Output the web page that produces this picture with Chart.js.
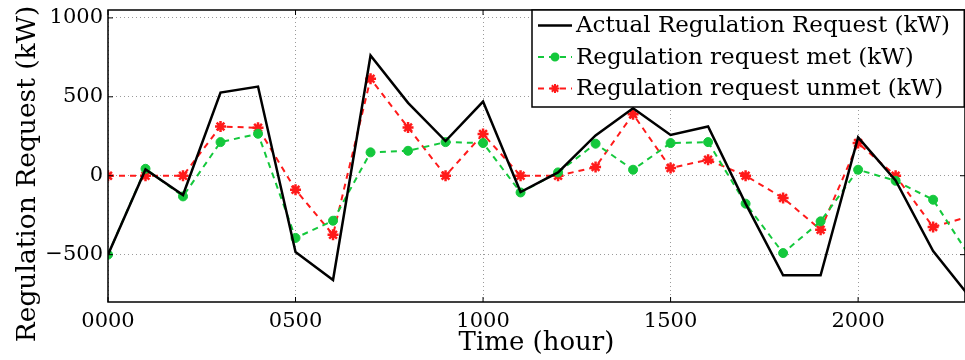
<!DOCTYPE html>
<html>
<head>
<meta charset="utf-8">
<script src="https://cdn.jsdelivr.net/npm/chart.js@4.4.1/dist/chart.umd.min.js"></script>
<style>
  html, body { margin: 0; padding: 0; background: #fff; }
  #wrap { width: 965px; height: 360px; }
</style>
</head>
<body>
<div id="wrap"><canvas id="chart"></canvas></div>
<script>
// hours of the day (hhmm)
const hours = [0, 100, 200, 300, 400, 500, 600, 700, 800, 900, 1000, 1100,
  1200, 1300, 1400, 1500, 1600, 1700, 1800, 1900, 2000, 2100, 2200, 2300];
const actualKW = [-500, 40, -122, 527, 565, -483, -660, 762, 462, 220, 470, -103,
  21, 255, 428, 258, 312, -177, -631, -631, 243, -30, -477, -775];
const metKW = [-500, 44, -131, 213, 266, -394, -285, 148, 158, 213, 207, -106,
  21, 203, 38, 207, 213, -177, -490, -289, 38, -32, -152, -520];
const unmetKW = [0, 0, 0, 312, 304, -89, -374, 614, 306, 0, 264, 0,
  0, 55, 390, 49, 101, 0, -141, -342, 207, 0, -325, -255];
const xTicks = [0, 500, 1000, 1500, 2000];
const yTicks = [-500, 0, 500, 1000];

const FONT = "'DejaVu Serif', 'Liberation Serif', serif";
const toPoints = vals => hours.map((h, i) => ({ x: h, y: vals[i] }));

// black frame + inward tick marks (matlab style), plus the y title
const framePlugin = {
  id: 'frame',
  afterDatasetsDraw(chart) {
    const { ctx, chartArea: a, scales } = chart;
    ctx.save();
    ctx.strokeStyle = '#000';
    ctx.lineWidth = 1.5;
    ctx.strokeRect(a.left, a.top, a.right - a.left, a.bottom - a.top);
    ctx.lineWidth = 1;
    ctx.beginPath();
    xTicks.forEach(v => {
      const x = scales.x.getPixelForValue(v);
      ctx.moveTo(x, a.bottom); ctx.lineTo(x, a.bottom - 5);
      ctx.moveTo(x, a.top); ctx.lineTo(x, a.top + 5);
    });
    yTicks.forEach(v => {
      const y = scales.y.getPixelForValue(v);
      ctx.moveTo(a.left, y); ctx.lineTo(a.left + 5, y);
      ctx.moveTo(a.right, y); ctx.lineTo(a.right - 5, y);
    });
    ctx.stroke();

    // y title, matlab puts it a bit lower than the axis centre
    ctx.translate(28, (a.top + a.bottom) / 2 + 18);
    ctx.rotate(-Math.PI / 2);
    ctx.fillStyle = '#000';
    ctx.font = "26.5px " + FONT;
    ctx.textAlign = 'center';
    ctx.textBaseline = 'middle';
    ctx.fillText('Regulation Request (kW)', 0, 0);
    ctx.restore();
  }
};

// boxed legend in the top right corner
const boxLegend = {
  id: 'boxLegend',
  afterDraw(chart) {
    const { ctx, chartArea: a } = chart;
    const w = 433, h = 97, rowH = 31.5;
    const left = a.right - w, top = a.top;
    ctx.save();
    ctx.fillStyle = '#fff';
    ctx.fillRect(left, top, w, h);
    ctx.strokeStyle = '#000';
    ctx.lineWidth = 1.5;
    ctx.strokeRect(left, top, w - 0.75, h);
    chart.data.datasets.forEach((ds, i) => {
      const y = top + 15.5 + i * rowH;
      ctx.strokeStyle = ds.borderColor;
      ctx.lineWidth = ds.borderWidth;
      ctx.setLineDash(ds.borderDash || []);
      ctx.beginPath();
      ctx.moveTo(left + 6, y);
      ctx.lineTo(left + 40, y);
      ctx.stroke();
      ctx.setLineDash([]);
      if (ds.pointRadius > 0) {
        ctx.fillStyle = ds.pointBackgroundColor;
        ctx.strokeStyle = ds.pointBorderColor;
        Chart.helpers.drawPoint(ctx, {
          pointStyle: ds.pointStyle, radius: ds.pointRadius - 1,
          rotation: 0, borderWidth: ds.pointBorderWidth
        }, left + 23, y);
      }
      ctx.fillStyle = '#000';
      ctx.font = "23px " + FONT;
      ctx.textBaseline = 'middle';
      ctx.textAlign = 'left';
      ctx.fillText(ds.label, left + 44, y + 1);
    });
    ctx.restore();
  }
};

new Chart(document.getElementById('chart'), {
  type: 'line',
  data: {
    datasets: [{
      label: 'Actual Regulation Request (kW)',
      data: toPoints(actualKW),
      borderColor: '#000',
      borderWidth: 2.5,
      pointRadius: 0,
      tension: 0
    }, {
      label: 'Regulation request met (kW)',
      data: toPoints(metKW),
      borderColor: '#14c83c',
      borderWidth: 2,
      borderDash: [6, 5],
      pointStyle: 'circle',
      pointRadius: 4.5,
      pointBackgroundColor: '#14c83c',
      pointBorderColor: '#14c83c',
      pointBorderWidth: 1,
      tension: 0
    }, {
      label: 'Regulation request unmet (kW)',
      data: toPoints(unmetKW),
      borderColor: '#ff1a1a',
      borderWidth: 2,
      borderDash: [6, 5],
      pointStyle: 'star',
      pointRadius: 5.5,
      pointBackgroundColor: '#ff1a1a',
      pointBorderColor: '#ff1a1a',
      pointBorderWidth: 2.5,
      tension: 0
    }]
  },
  options: {
    responsive: true,
    maintainAspectRatio: false,
    animation: false,
    layout: { autoPadding: false, padding: { top: 10, right: 0, left: 0, bottom: 0 } },
    plugins: { legend: { display: false }, tooltip: { enabled: false } },
    scales: {
      x: {
        type: 'linear',
        min: 0,
        max: 2285,
        afterBuildTicks: s => { s.ticks = xTicks.map(v => ({ value: v })); },
        afterFit: s => { s.height = 58; s.paddingLeft = 0; s.paddingRight = 0; },
        ticks: {
          color: '#000',
          padding: 7,
          maxRotation: 0,
          font: { family: FONT, size: 21 },
          callback: v => String(v).padStart(4, '0')
        },
        grid: { color: '#9a9a9a', lineWidth: 1, drawTicks: false },
        border: { display: false, dash: [1, 3] },
        title: {
          display: true,
          text: 'Time (hour)',
          color: '#000',
          font: { family: FONT, size: 26 },
          padding: { top: 0, bottom: 1 }
        }
      },
      y: {
        min: -800,
        max: 1050,
        afterBuildTicks: s => { s.ticks = yTicks.map(v => ({ value: v })); },
        afterFit: s => { s.width = 108; s.paddingTop = 0; s.paddingBottom = 0; },
        ticks: {
          color: '#000',
          padding: 5,
          font: { family: FONT, size: 21 },
          callback: v => v < 0 ? '\u2212' + Math.abs(v) : String(v)
        },
        grid: { color: '#9a9a9a', lineWidth: 1, drawTicks: false },
        border: { display: false, dash: [1, 3] }
      }
    }
  },
  plugins: [framePlugin, boxLegend]
});
</script>
</body>
</html>
